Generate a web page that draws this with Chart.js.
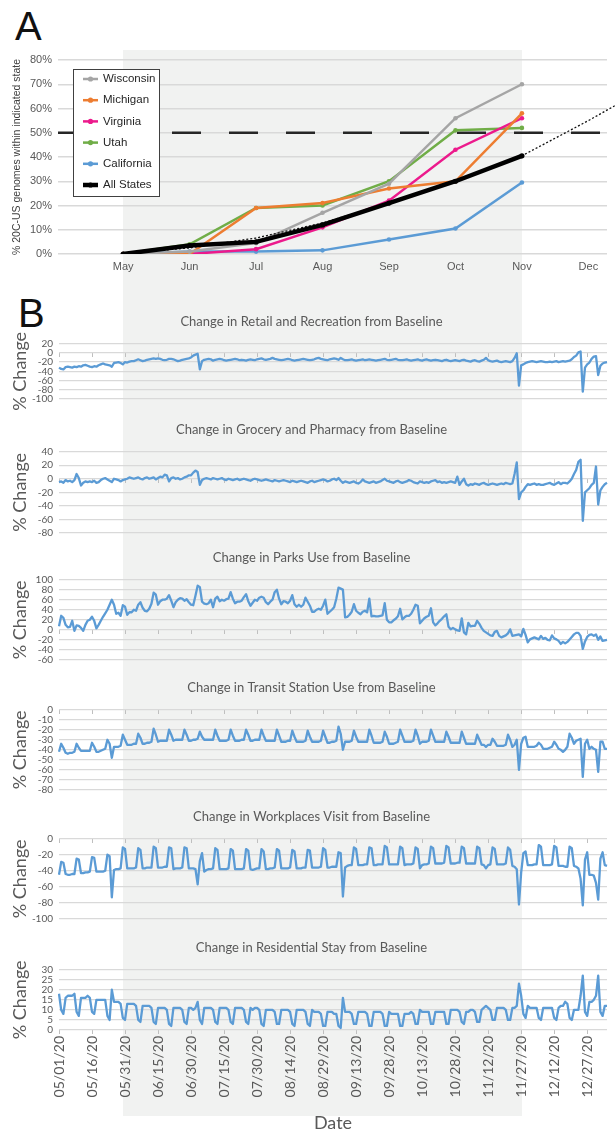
<!DOCTYPE html>
<html>
<head>
<meta charset="utf-8">
<title>20C-US share and mobility</title>
<script src="https://cdn.jsdelivr.net/npm/chart.js@4.4.1/dist/chart.umd.min.js"></script>
<style>
  html, body { margin: 0; padding: 0; background: #fff; }
  #page { position: relative; width: 615px; height: 1134px; overflow: hidden; }
  #shade { position: absolute; left: 123px; top: 50px; width: 399px; height: 1066px; background: #f1f2f1; }
  .letter { position: absolute; font: 40px "Liberation Sans", Arial, sans-serif; line-height: 40px; color: #111; }
  canvas { position: absolute; left: 0; }
</style>
</head>
<body>
<div id="page">
  <div id="shade"></div>
  <div class="letter" style="left:15px;top:6px">A</div>
  <div class="letter" style="left:18px;top:293px">B</div>
  <canvas id="chartA" width="615" height="240" style="top:45px"></canvas>
  <canvas id="retail" width="615" height="101" style="top:310px"></canvas>
  <canvas id="grocery" width="615" height="127" style="top:418px"></canvas>
  <canvas id="parks" width="615" height="126" style="top:546px"></canvas>
  <canvas id="transit" width="615" height="126" style="top:676px"></canvas>
  <canvas id="work" width="615" height="126" style="top:805px"></canvas>
  <canvas id="resid" width="615" height="198" style="top:936px"></canvas>
</div>
<script>
// ---------- panel A: % of 20C-US genomes per state ----------
const months = ['May', 'Jun', 'Jul', 'Aug', 'Sep', 'Oct', 'Nov', 'Dec'];
const wisconsin  = [0, 1, 4.5, 17, 29, 56, 70];
const michigan   = [0, 0, 19, 21, 27, 30, 58];
const virginia   = [0, 0, 2, 11, 22, 43, 56];
const utah       = [0, 4, 19, 20, 30, 51, 52];
const california = [0, 1, 1, 1.5, 6, 10.5, 29.5];
const allStates  = [0, 3.5, 5, 12, 21, 30, 40.5];
// dotted trend line of All States (month position, %)
const trendX = [0, 1, 2, 3, 4, 5, 6, 7, 7.42];
const trendY = [0.3, 2.5, 6.6, 12.8, 21, 30.2, 40.5, 55, 61.5];
const pctTicks = [0, 10, 20, 30, 40, 50, 60, 70, 80];
const aMin = -0.98, aMax = 7.28;

// ---------- panel B: daily mobility change from baseline, 05/01/20 .. ----------
const retail = [
  -32, -35, -36, -31, -30, -31, -32, -30, -31, -29,
  -30, -27, -26, -28, -30, -31, -29, -30, -27, -25,
  -23, -25, -26, -27, -30, -22, -21, -20, -22, -25,
  -20, -21, -19, -18, -18, -16, -14, -16, -18, -17,
  -15, -14, -13, -12, -13, -12, -13, -15, -16, -15,
  -13, -13, -14, -16, -18, -17, -15, -14, -13, -12,
  -10, -6, -4, -2, -36, -18, -15, -14, -13, -14,
  -17, -15, -14, -13, -14, -16, -17, -16, -15, -14,
  -13, -14, -16, -15, -16, -17, -15, -14, -15, -16,
  -14, -13, -12, -14, -15, -14, -13, -11, -13, -14,
  -15, -16, -15, -14, -13, -14, -16, -17, -16, -15,
  -14, -13, -14, -15, -16, -15, -14, -12, -11, -13,
  -14, -15, -16, -14, -13, -12, -13, -15, -11, -14,
  -16, -16, -15, -14, -16, -17, -16, -15, -14, -16,
  -15, -14, -15, -16, -17, -16, -15, -14, -13, -15,
  -16, -15, -14, -13, -15, -16, -16, -15, -14, -16,
  -17, -16, -15, -14, -16, -17, -15, -14, -16, -17,
  -16, -15, -16, -17, -18, -16, -15, -17, -18, -17,
  -16, -17, -18, -16, -15, -17, -18, -19, -17, -16,
  -18, -19, -17, -15, -11, -16, -18, -19, -18, -17,
  -19, -20, -19, -18, -19, -20, -18, -11, -1, -71,
  -27, -25, -22, -20, -19, -18, -19, -20, -19, -18,
  -19, -20, -20, -19, -20, -19, -18, -20, -19, -18,
  -19, -18, -17, -14, -9, -6, 1, 3, -84, -32,
  -25, -21, -13, -8, -7, -48, -28, -23, -21, -20
];
const grocery = [
  -5, -4, -6, -2, -4, -3, -5, -2, 7, 1,
  -10, -6, -4, -5, -4, -5, -3, -6, -5, -2,
  0, 1, -1, -3, -5, 0, -1, -2, -4, -2,
  -1, 0, 2, 1, 0, 1, 2, 0, -1, 1,
  2, 0, 1, 2, -1, 1, 3, 2, 6, 5,
  -4, 1, 2, 0, 1, -1, 0, 2, 3, 5,
  5, 9, 12, 10, -9, -2, 0, 1, 0, -1,
  1, 0, -1, 0, 1, -1, -2, 0, -1, -2,
  -1, 0, -2, -1, 0, -1, -2, -3, -1, 0,
  -1, -2, -3, -2, -1, -2, -3, -4, -2, -3,
  -4, -3, -2, -3, -4, -5, -3, -4, -5, -4,
  -3, -4, -5, -6, -4, -3, -5, -4, -3, -2,
  -1, -2, -4, -3, -1, 0, -2, 1, -3, -6,
  -4, -5, -6, -5, -4, -6, -7, -5, -1, -4,
  -5, -6, -5, -4, -6, -5, -4, -2, 0, -3,
  -4, -5, -6, -4, -3, -5, -6, -5, -4, -2,
  -3, -5, -6, -7, -4, -5, -6, -5, -6, -4,
  -3, -2, -5, -4, -6, -5, -6, -5, -4, -5,
  -6, 3, -9, -4, 0, -8, -10, -8, -9, -7,
  -8, -9, -7, -6, -8, -9, -8, -7, -8, -9,
  -8, -7, -8, -6, -7, -8, -7, 7, 24, -30,
  -20, -17, -12, -8, -9, -8, -7, -9, -8, -9,
  -9, -8, -7, -6, -8, -9, -7, -5, -8, -6,
  -6, -7, -4, 0, 7, 13, 25, 28, -62, -20,
  -17, -14, -9, -6, 18, -38, -17, -12, -8, -6
];
const parks = [
  7, 28, 24, 10, 5, 6, 18, -2, 9, 8,
  4, -2, 10, 18, 20, 26, 18, 3, 10, 18,
  26, 33, 40, 50, 60, 50, 32, 34, 28, 49,
  46, 30, 35, 35, 40, 38, 50, 55, 44, 38,
  37, 42, 52, 74, 70, 50, 57, 60, 60, 62,
  69, 58, 45, 55, 60, 63, 62, 58, 61, 55,
  50, 49, 68, 88, 85, 56, 52, 51, 53, 60,
  45, 62, 66, 57, 60, 58, 61, 62, 75, 62,
  53, 56, 56, 58, 65, 71, 57, 48, 54, 60,
  58, 64, 66, 64, 55, 51, 56, 60, 75, 80,
  62, 51, 57, 56, 53, 58, 69, 51, 46, 50,
  46, 50, 64, 56, 48, 36, 36, 40, 42, 40,
  48, 60, 32, 36, 40, 45, 62, 84, 82, 80,
  25, 26, 30, 36, 51, 38, 34, 31, 36, 38,
  35, 62, 27, 28, 27, 27, 28, 29, 53, 20,
  15, 15, 19, 22, 27, 42, 21, 25, 28, 28,
  32, 40, 50, 48, 13, 18, 23, 26, 28, 43,
  15, 9, 13, 18, 22, 27, 31, 6, 1, 4,
  1, -1, -2, 23, -5, -9, 14, 7, 8, 8,
  18, 12, 4, -2, -5, -8, -11, -12, -4, -2,
  -12, -15, -13, -11, -7, 1, -12, -11, -10, -9,
  -13, 2, -10, -25, -19, -17, -15, -17, -19, -12,
  -18, -16, -20, -21, -11, -17, -19, -22, -28, -24,
  -27, -24, -19, -14, -9, -6, -6, -12, -38, -23,
  -14, -10, -9, -12, -9, -20, -13, -22, -21, -20
];
// weekly rows: Fri, Sat, Sun, Mon, Tue, Wed, Thu
const transit = [
  -42, -34, -38, -43, -44, -43, -43,
  -42, -34, -38, -41, -41, -41, -41,
  -41, -33, -37, -42, -42, -41, -40,
  -39, -30, -34, -48, -37, -37, -37,
  -36, -25, -30, -35, -35, -35, -34,
  -34, -24, -28, -34, -34, -33, -33,
  -32, -19, -25, -32, -31, -31, -31,
  -31, -20, -25, -31, -30, -30, -30,
  -30, -20, -25, -31, -31, -30, -30,
  -29, -22, -27, -30, -30, -30, -30,
  -30, -20, -26, -31, -31, -31, -31,
  -30, -20, -26, -31, -31, -31, -30,
  -30, -20, -25, -31, -31, -30, -30,
  -30, -20, -26, -31, -31, -31, -31,
  -31, -20, -26, -32, -32, -32, -31,
  -31, -21, -27, -32, -32, -32, -32,
  -31, -21, -27, -32, -32, -32, -32,
  -31, -21, -27, -33, -33, -32, -32,
  -31, -17, -24, -40, -32, -32, -32,
  -31, -21, -27, -32, -32, -32, -32,
  -32, -20, -26, -33, -33, -33, -33,
  -32, -22, -27, -34, -34, -34, -33,
  -32, -20, -26, -32, -32, -32, -32,
  -31, -20, -26, -34, -32, -32, -32,
  -31, -20, -26, -32, -32, -32, -32,
  -32, -22, -27, -33, -33, -33, -33,
  -33, -22, -28, -34, -34, -34, -34,
  -34, -25, -30, -35, -35, -37, -35,
  -35, -29, -32, -36, -36, -36, -36,
  -35, -25, -30, -37, -35, -30, -60,
  -34, -28, -27, -37, -37, -37, -37,
  -36, -33, -35, -39, -39, -39, -38,
  -37, -32, -35, -39, -40, -42, -40,
  -37, -24, -28, -34, -31, -30, -29,
  -67, -34, -30, -39, -37, -39, -40,
  -62, -32, -32, -39, -39
];
const workplaces = [
  -45, -29, -30, -44, -45, -45, -44,
  -44, -25, -26, -43, -43, -42, -42,
  -41, -23, -24, -41, -41, -41, -41,
  -40, -20, -22, -73, -39, -38, -38,
  -37, -11, -13, -37, -37, -37, -37,
  -36, -12, -14, -37, -37, -36, -36,
  -36, -10, -12, -36, -36, -36, -35,
  -35, -11, -12, -38, -37, -37, -37,
  -36, -11, -12, -37, -37, -37, -38,
  -57, -28, -18, -41, -39, -38, -38,
  -37, -12, -14, -38, -38, -38, -38,
  -37, -13, -15, -38, -38, -38, -38,
  -37, -13, -15, -38, -39, -38, -37,
  -37, -13, -16, -38, -38, -37, -37,
  -36, -13, -15, -37, -37, -37, -37,
  -36, -14, -16, -37, -37, -37, -36,
  -36, -14, -15, -36, -36, -36, -36,
  -35, -12, -14, -36, -36, -35, -35,
  -35, -17, -18, -72, -36, -34, -33,
  -33, -11, -13, -33, -33, -33, -32,
  -32, -11, -12, -33, -33, -32, -32,
  -32, -9, -11, -32, -32, -32, -32,
  -32, -10, -12, -33, -32, -32, -32,
  -31, -11, -13, -37, -33, -32, -32,
  -31, -10, -12, -31, -31, -31, -31,
  -30, -9, -11, -31, -31, -31, -30,
  -30, -10, -12, -31, -31, -31, -31,
  -31, -10, -12, -32, -33, -37, -33,
  -32, -11, -13, -32, -32, -32, -32,
  -31, -11, -14, -34, -35, -38, -82,
  -42, -18, -16, -33, -33, -33, -32,
  -32, -8, -10, -33, -33, -33, -33,
  -32, -9, -11, -34, -34, -34, -35,
  -35, -10, -12, -34, -35, -37, -50,
  -83, -26, -17, -45, -45, -46, -55,
  -76, -25, -17, -33, -34
];
const residential = [
  18, 10, 8, 16, 17, 17, 17,
  18, 9, 7, 16, 16, 16, 17,
  16, 9, 8, 15, 15, 15, 15,
  15, 7, 5, 20, 14, 14, 14,
  13, 6, 5, 13, 13, 13, 13,
  12, 5, 4, 12, 12, 12, 12,
  11, 4, 3, 11, 11, 11, 11,
  10, 3, 2, 11, 11, 11, 11,
  10, 4, 3, 11, 11, 10, 11,
  14, 5, 3, 11, 11, 11, 11,
  10, 4, 3, 11, 11, 11, 11,
  10, 4, 3, 11, 11, 11, 11,
  10, 4, 3, 11, 10, 11, 11,
  10, 3, 2, 10, 10, 10, 10,
  9, 3, 3, 10, 10, 10, 10,
  9, 3, 2, 10, 10, 10, 10,
  9, 3, 2, 10, 9, 9, 9,
  8, 2, 2, 9, 9, 9, 8,
  8, 2, 1, 16, 9, 9, 9,
  8, 3, 3, 9, 9, 9, 9,
  8, 2, 2, 9, 9, 9, 9,
  8, 2, 2, 9, 8, 8, 8,
  8, 2, 2, 8, 8, 8, 9,
  8, 3, 3, 10, 9, 9, 9,
  9, 3, 3, 9, 9, 9, 9,
  9, 3, 3, 10, 10, 10, 10,
  9, 4, 3, 9, 9, 10, 10,
  9, 4, 4, 10, 11, 12, 11,
  10, 5, 5, 11, 11, 11, 11,
  10, 5, 5, 11, 11, 12, 23,
  17, 8, 6, 12, 11, 11, 11,
  11, 6, 5, 11, 11, 11, 11,
  11, 6, 5, 11, 12, 12, 14,
  13, 6, 5, 10, 10, 10, 17,
  27, 9, 7, 14, 14, 15, 17,
  27, 9, 7, 12, 12
];
const retailTicks  = [20, 0, -20, -40, -60, -80, -100];
const groceryTicks = [40, 20, 0, -20, -40, -60, -80];
const parksTicks   = [100, 80, 60, 40, 20, 0, -20, -40, -60];
const transitTicks = [0, -10, -20, -30, -40, -50, -60, -70, -80];
const workTicks    = [0, -20, -40, -60, -80, -100];
const residTicks   = [30, 25, 20, 15, 10, 5, 0];

// category labels: one per day starting 05/01/20
const dates = [];
for (let i = 0; i < retail.length; i++) {
  const d = new Date(2020, 4, 1 + i);
  const mm = String(d.getMonth() + 1).padStart(2, '0');
  const dd = String(d.getDate()).padStart(2, '0');
  const yy = String(d.getFullYear()).slice(2);
  dates.push(mm + '/' + dd + '/' + yy);
}

const GREY = '#595959';
const ARIAL = '"Liberation Sans", Arial, sans-serif';

// legend with a box, drawn inside the plot of panel A
const boxLegend = {
  id: 'boxLegend',
  afterDatasetsDraw(chart) {
    const { ctx, chartArea } = chart;
    const items = chart.data.datasets.filter(d => d.inLegend);
    const x0 = chartArea.left + 15, y0 = chartArea.top + 9;
    ctx.save();
    ctx.fillStyle = '#fff';
    ctx.fillRect(x0, y0, 86, 127);
    ctx.strokeStyle = '#404040';
    ctx.lineWidth = 1;
    ctx.strokeRect(x0 + 0.5, y0 + 0.5, 86, 127);
    ctx.font = '11.5px ' + ARIAL;
    ctx.textBaseline = 'middle';
    items.forEach((d, i) => {
      const y = y0 + 10 + i * 21.2;
      ctx.strokeStyle = d.borderColor;
      ctx.lineWidth = d.borderWidth;
      ctx.beginPath();
      ctx.moveTo(x0 + 10, y);
      ctx.lineTo(x0 + 25, y);
      ctx.stroke();
      ctx.fillStyle = d.borderColor;
      ctx.beginPath();
      ctx.arc(x0 + 17.5, y, 2.6, 0, Math.PI * 2);
      ctx.fill();
      ctx.fillStyle = '#262626';
      ctx.fillText(d.label, x0 + 30, y);
    });
    ctx.restore();
  }
};

const toXY = arr => arr.map((v, i) => ({ x: i, y: v }));

function stateLine(label, values, color) {
  return {
    label, data: toXY(values), borderColor: color, backgroundColor: color,
    borderWidth: 2.5, pointRadius: 2.3, pointBorderWidth: 0, pointBackgroundColor: color,
    inLegend: true, order: 2
  };
}

new Chart(document.getElementById('chartA'), {
  type: 'line',
  data: {
    datasets: [
      stateLine('Wisconsin', wisconsin, '#a5a5a5'),
      stateLine('Michigan', michigan, '#ed7d31'),
      stateLine('Virginia', virginia, '#ec1a8c'),
      stateLine('Utah', utah, '#70ad47'),
      stateLine('California', california, '#5b9bd5'),
      {
        label: 'All States', data: toXY(allStates), borderColor: '#000', backgroundColor: '#000',
        borderWidth: 4.5, pointRadius: 2.6, pointBorderWidth: 0, inLegend: true, order: 0
      },
      {
        label: 'trend', data: trendX.map((x, i) => ({ x, y: trendY[i] })),
        borderColor: '#111', borderWidth: 1.3, borderDash: [2, 2], pointRadius: 0, clip: false, order: 1
      },
      {
        label: '50%', data: [{ x: aMin, y: 50 }, { x: aMax, y: 50 }],
        borderColor: '#262626', borderWidth: 2.5, borderDash: [29, 28], pointRadius: 0, order: 3
      }
    ]
  },
  options: {
    responsive: false, animation: false, devicePixelRatio: 1,
    layout: { padding: { top: 15, right: 8, bottom: 0, left: 0 } },
    plugins: { legend: { display: false }, tooltip: { enabled: false } },
    scales: {
      x: {
        type: 'linear', min: aMin, max: aMax,
        afterBuildTicks: s => { s.ticks = months.map((m, i) => ({ value: i })); },
        afterFit: s => { s.height = 31; },
        ticks: { callback: v => months[v], color: GREY, font: { family: ARIAL, size: 11 }, padding: 6, autoSkip: false, maxRotation: 0 },
        grid: { display: false, drawTicks: false },
        border: { display: false }
      },
      y: {
        min: 0, max: 80,
        afterBuildTicks: s => { s.ticks = pctTicks.map(v => ({ value: v })); },
        afterFit: s => { s.width = 58; },
        ticks: { callback: v => v + '%', color: GREY, font: { family: ARIAL, size: 11 }, padding: 6, autoSkip: false },
        grid: { color: '#d9d9d9', lineWidth: 1.5, drawTicks: false },
        border: { display: false },
        title: {
          display: true, text: '% 20C-US genomes within indicated state',
          color: '#404040', font: { family: ARIAL, size: 10.5 }, padding: { top: 11, bottom: 0 }
        }
      }
    }
  },
  plugins: [boxLegend]
});

// one small chart per mobility category
function mobilityChart(id, title, values, yMin, yMax, yTicks, withDates) {
  const everyFifteen = s => { s.ticks = s.ticks.filter(t => t.value % 15 === 0); };
  const xAxis = withDates ? {
    position: 'bottom',
    afterBuildTicks: everyFifteen,
    afterFit: s => { s.height = 104; },
    ticks: { color: GREY, font: { family: 'Lato', size: 14 }, minRotation: 90, maxRotation: 90, autoSkip: false, padding: 2 },
    grid: { drawOnChartArea: false, drawTicks: true, tickLength: 4, tickColor: '#bfbfbf' },
    border: { display: false },
    title: { display: true, text: 'Date', color: GREY, font: { family: 'Lato', size: 18 }, padding: { top: 0, bottom: 0 } }
  } : {
    position: { y: 0 },
    afterBuildTicks: everyFifteen,
    ticks: { display: false },
    grid: { drawOnChartArea: false, drawTicks: true, tickLength: 4, tickColor: '#bfbfbf' },
    border: { display: false }
  };

  new Chart(document.getElementById(id), {
    type: 'line',
    data: {
      labels: dates,
      datasets: [{
        data: values, borderColor: '#5b9bd5', borderWidth: 2.3, pointRadius: 0,
        tension: 0, borderJoinStyle: 'round'
      }]
    },
    options: {
      responsive: false, animation: false, devicePixelRatio: 1,
      layout: { padding: { top: 4, right: 8, bottom: withDates ? 0 : 6, left: 16 } },
      plugins: {
        legend: { display: false },
        tooltip: { enabled: false },
        title: {
          display: true, text: title, color: GREY,
          font: { family: 'Lato', size: 13, weight: 'normal' }, padding: { top: 0, bottom: 14 }
        }
      },
      scales: {
        x: xAxis,
        y: {
          min: yMin, max: yMax,
          afterBuildTicks: s => { s.ticks = yTicks.map(v => ({ value: v })); },
          afterFit: s => { s.width = 43; },
          ticks: { color: GREY, font: { family: 'Lato', size: 10 }, padding: 6, autoSkip: false },
          grid: { color: '#d9d9d9', lineWidth: 1.3, drawTicks: false },
          border: { display: false },
          title: {
            display: true, text: '% Change', color: GREY,
            font: { family: 'Lato', size: 18 }, padding: { top: -7, bottom: 0 }
          }
        }
      }
    }
  });
}

mobilityChart('retail', 'Change in Retail and Recreation from Baseline', retail, -100, 20, retailTicks, false);
mobilityChart('grocery', 'Change in Grocery and Pharmacy from Baseline', grocery, -80, 40, groceryTicks, false);
mobilityChart('parks', 'Change in Parks Use from Baseline', parks, -60, 100, parksTicks, false);
mobilityChart('transit', 'Change in Transit Station Use from Baseline', transit, -80, 0, transitTicks, false);
mobilityChart('work', 'Change in Workplaces Visit from Baseline', workplaces, -100, 0, workTicks, false);
mobilityChart('resid', 'Change in Residential Stay from Baseline', residential, 0, 30, residTicks, true);
</script>
</body>
</html>
